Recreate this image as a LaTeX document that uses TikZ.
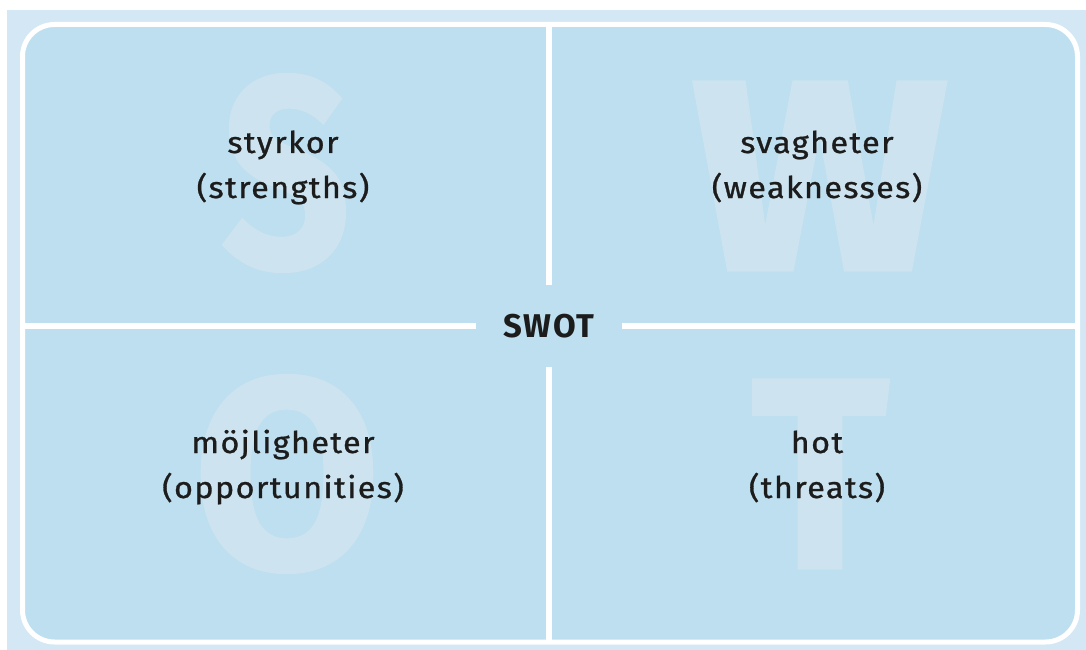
\documentclass[tikz,border=0pt]{standalone}
\usepackage{fontspec}
\setmainfont{Fira Sans}
\newfontfamily\lblfont[LetterSpace=4.5,FakeBold=0.9]{Fira Sans}
\newfontfamily\bigfont[BoldFeatures={FakeBold=1.2}]{Fira Sans}
\newfontfamily\hubfont[BoldFeatures={LetterSpace=5}]{Fira Sans}
\usepackage{tikz}

\definecolor{outerbg}{HTML}{D3E7F4}
\definecolor{panelbg}{HTML}{BEDFEF}
\definecolor{bigletter}{HTML}{CDE4F0}
\definecolor{inktext}{HTML}{1C1C1C}

\tikzset{
  lbl/.style={text=inktext, inner sep=0pt, xscale=1.08,
    font=\lblfont\fontsize{30}{30}\selectfont,
    text height=22bp, text depth=7bp},
  big/.style={text=bigletter, inner sep=0pt, font=\bigfont\fontsize{272}{272}\selectfont\bfseries},
  divider/.style={draw=white, line width=6bp},
}

\begin{document}
\begin{tikzpicture}[x=1bp, y=-1bp, node distance=45bp]
\useasboundingbox (0,0) rectangle (1086,650);
\fill[outerbg] (7,10) rectangle (1086,650);
\filldraw[fill=panelbg, draw=white, line width=5bp, rounded corners=32bp]
  (22.5,24.5) rectangle (1077.5,642);

% big background letters
\node[big, xscale=0.83] (bigS) at (286,173) {S};
\node[big, xscale=1.12] (bigW) at (820,176) {W};
\node[big] (bigO) at (287,474) {O};
\node[big, xscale=0.94] (bigT) at (820,474) {T};

% centre and cross
\node[text=inktext, inner xsep=28bp, minimum height=82bp,
  font=\hubfont\fontsize{33}{33}\selectfont\bfseries] (sw) at (549,326) {SWOT};
\coordinate (top) at (549,25);
\coordinate (bot) at (549,641);
\coordinate (lft) at (23,326);
\coordinate (rgt) at (1077,326);
\draw[divider] (sw.north) -- (top);
\draw[divider] (sw.south) -- (bot);
\draw[divider] (sw.west) -- (lft);
\draw[divider] (sw.east) -- (rgt);

% quadrant labels
\node[lbl] (st) at (283,145.5) {styrkor};
\node[lbl, below of=st] (stE) {(strengths)};
\node[lbl] (sv) at (817,145.5) {svagheter};
\node[lbl, below of=sv] (svE) {(weaknesses)};
\node[lbl] (mo) at (283,445.5) {möjligheter};
\node[lbl, below of=mo] (moE) {(opportunities)};
\node[lbl] (ho) at (817,445.5) {hot};
\node[lbl, below of=ho] (hoE) {(threats)};
\end{tikzpicture}
\end{document}
